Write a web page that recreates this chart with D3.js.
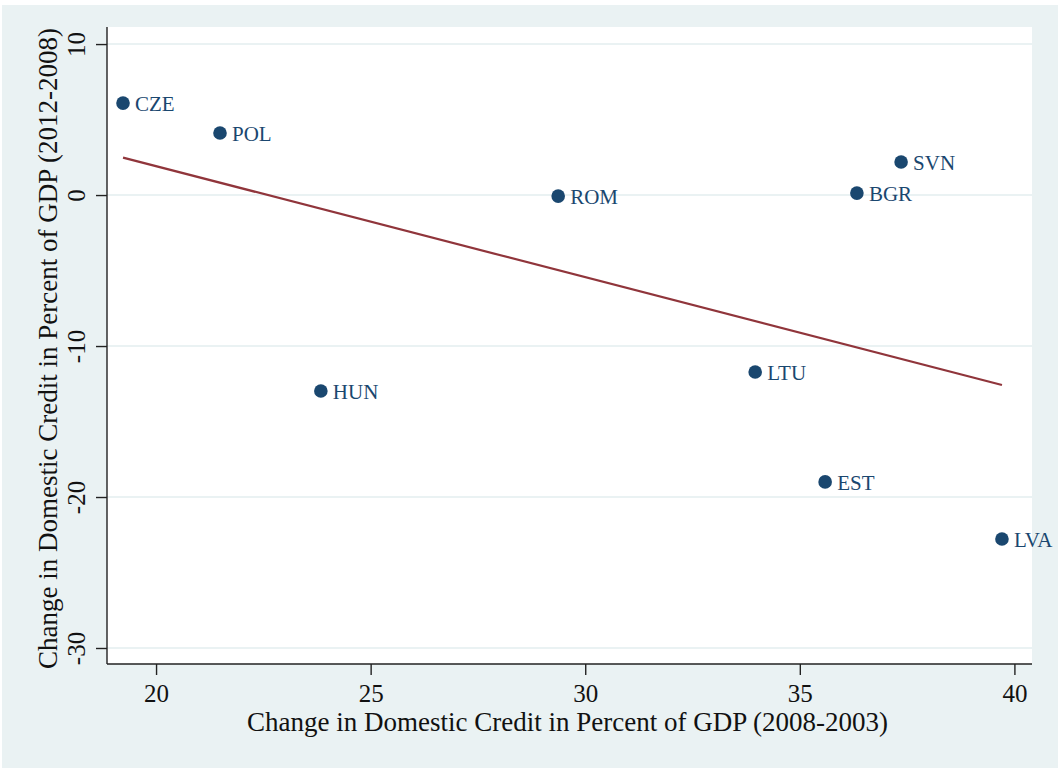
<!DOCTYPE html>
<html>
<head>
<meta charset="utf-8">
<script src="https://cdn.jsdelivr.net/npm/d3@7/dist/d3.min.js"></script>
<style>
  html, body { margin: 0; padding: 0; background: #ffffff; }
  svg { display: block; }
  text { font-family: "Liberation Serif", "Times New Roman", serif; }
</style>
</head>
<body>
<svg id="chart" width="1058" height="769"></svg>
<script>
// Country codes and credit changes (percent of GDP)
const countries = ["CZE", "POL", "HUN", "ROM", "LTU", "EST", "BGR", "SVN", "LVA"];
const creditGrowth0308 = [19.23, 21.49, 23.84, 29.37, 33.96, 35.59, 36.33, 37.36, 39.71];
const creditChange0812 = [6.09, 4.11, -12.98, -0.07, -11.72, -19.0, 0.13, 2.19, -22.78];

const xTicks = [20, 25, 30, 35, 40];
const yTicks = [10, 0, -10, -20, -30];

const xTitle = "Change in Domestic Credit in Percent of GDP (2008-2003)";
const yTitle = "Change in Domestic Credit in Percent of GDP (2012-2008)";

const W = 1058, H = 769;
const plot = { left: 107, right: 1032, top: 27, bottom: 664 };

const svg = d3.select("#chart");

// outer graph region
svg.append("rect")
  .attr("x", 2).attr("y", 5)
  .attr("width", W - 2).attr("height", H - 6)
  .attr("fill", "#eaf2f3");

// plot region
svg.append("rect")
  .attr("x", plot.left).attr("y", plot.top)
  .attr("width", plot.right - plot.left).attr("height", plot.bottom - plot.top)
  .attr("fill", "#ffffff");

const x = d3.scaleLinear().domain([18.857, 40.41]).range([plot.left, plot.right]);
const y = d3.scaleLinear().domain([-31.06, 11.13]).range([plot.bottom, plot.top]);

// plain hyphen for negative tick labels
const fmt = d => String(d);

// horizontal gridlines
svg.append("g").selectAll("line").data(yTicks).join("line")
  .attr("x1", plot.left).attr("x2", plot.right)
  .attr("y1", d => y(d)).attr("y2", d => y(d))
  .attr("stroke", "#eaf2f3").attr("stroke-width", 2);

// linear fit (OLS) over the observed x range
const n = countries.length;
const mx = d3.mean(creditGrowth0308), my = d3.mean(creditChange0812);
let sxy = 0, sxx = 0;
for (let i = 0; i < n; i++) {
  sxy += (creditGrowth0308[i] - mx) * (creditChange0812[i] - my);
  sxx += (creditGrowth0308[i] - mx) ** 2;
}
const slope = sxy / sxx, intercept = my - slope * mx;
const [xmin, xmax] = d3.extent(creditGrowth0308);
const fitPts = [xmin, xmax].map(v => [v, intercept + slope * v]);

svg.append("path")
  .datum(fitPts)
  .attr("d", d3.line().x(d => x(d[0])).y(d => y(d[1])))
  .attr("fill", "none")
  .attr("stroke", "#90353b")
  .attr("stroke-width", 2.2);

// markers and labels
const pts = countries.map((c, i) => ({ c, x: creditGrowth0308[i], y: creditChange0812[i] }));
const gPts = svg.append("g");
gPts.selectAll("circle").data(pts).join("circle")
  .attr("cx", d => x(d.x)).attr("cy", d => y(d.y))
  .attr("r", 6.8)
  .attr("fill", "#1a476f");
gPts.selectAll("text").data(pts).join("text")
  .attr("x", d => x(d.x) + 12)
  .attr("y", d => y(d.y) + 8)
  .attr("font-size", 21)
  .attr("fill", "#1a476f")
  .text(d => d.c);

// y axis
const yAxis = svg.append("g")
  .attr("transform", `translate(${plot.left},0)`)
  .call(d3.axisLeft(y).tickValues(yTicks).tickSize(11).tickSizeOuter(0).tickFormat(fmt));
yAxis.select(".domain").attr("d", `M0,${plot.top}V${plot.bottom}`);
yAxis.selectAll("line, path").attr("stroke", "#222").attr("stroke-width", 1.4);
yAxis.selectAll("text")
  .attr("font-family", "Liberation Serif")
  .attr("font-size", 25)
  .attr("fill", "#111")
  .attr("x", null).attr("dy", null)
  .attr("text-anchor", "middle")
  .attr("transform", "translate(-22,0) rotate(-90)")
  .attr("y", 0);

// x axis
const xAxis = svg.append("g")
  .attr("transform", `translate(0,${plot.bottom})`)
  .call(d3.axisBottom(x).tickValues(xTicks).tickSize(11).tickSizeOuter(0).tickFormat(fmt));
xAxis.select(".domain").attr("d", `M${plot.left},0H${plot.right}`);
xAxis.selectAll("line, path").attr("stroke", "#222").attr("stroke-width", 1.4);
xAxis.selectAll("text")
  .attr("font-family", "Liberation Serif")
  .attr("font-size", 25)
  .attr("fill", "#111")
  .attr("dy", null)
  .attr("y", 38);

// axis titles
svg.append("text")
  .attr("x", (plot.left + plot.right) / 2 - 2)
  .attr("y", 731)
  .attr("text-anchor", "middle")
  .attr("font-size", 27)
  .attr("fill", "#111")
  .text(xTitle);

svg.append("text")
  .attr("transform", `translate(57,${(plot.top + plot.bottom) / 2 + 3}) rotate(-90)`)
  .attr("text-anchor", "middle")
  .attr("font-size", 27)
  .attr("fill", "#111")
  .text(yTitle);
</script>
</body>
</html>
